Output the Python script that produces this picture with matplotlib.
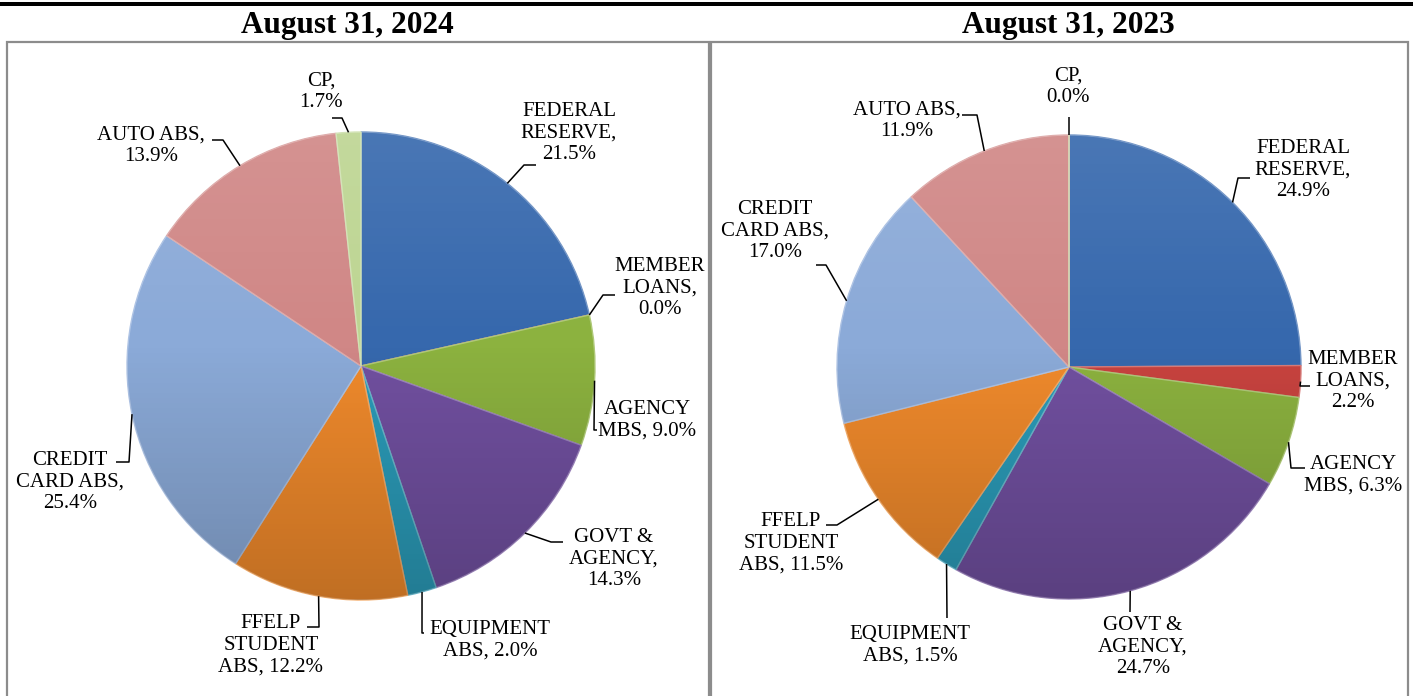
import numpy as np
import matplotlib.pyplot as plt
from matplotlib.patches import Rectangle, Circle
from matplotlib.colors import to_rgb

plt.rcParams['font.family'] = ['Liberation Serif', 'DejaVu Serif']

# data
categories = ['FEDERAL RESERVE', 'MEMBER LOANS', 'AGENCY MBS', 'GOVT & AGENCY',
              'EQUIPMENT ABS', 'FFELP STUDENT ABS', 'CREDIT CARD ABS', 'AUTO ABS', 'CP']
share_2024 = [21.5, 0.0, 9.0, 14.3, 2.0, 12.2, 25.4, 13.9, 1.7]
share_2023 = [24.9, 2.2, 6.3, 24.7, 1.5, 11.5, 17.0, 11.9, 0.0]
titles = ['August 31, 2024', 'August 31, 2023']
# how each category name is broken over lines in the data labels
label_names = ['FEDERAL\nRESERVE,\n', 'MEMBER\nLOANS,\n', 'AGENCY\nMBS, ', 'GOVT &\nAGENCY,\n',
               'EQUIPMENT\nABS, ', 'FFELP\nSTUDENT\nABS, ', 'CREDIT\nCARD ABS,\n', 'AUTO ABS,\n', 'CP,\n']

colors = ['#3668ad', '#c8433f', '#8cb23f', '#7150a0', '#2b9bb8',
          '#f08a2c', '#8baad8', '#d08786', '#bdd592']

W, H = 1413, 696


def Y(y):
    # pixel row (from top) -> data y
    return H - y


# layout in pixels (x, y from top)
panels = [
    dict(values=share_2024, title=titles[0], title_x=347, center=(361, 366), r=234,
         box=(7, 709),
         labels=[(569, 133), (660, 288), (647, 420), (614, 559), (490, 640),
                 (271, 645), (70, 482), (151, 146), (321, 92)],
         leaders=[[(524, 165), (536, 165)], [(603, 295), (615, 295)], [(594, 430), (597, 430)],
                  [(551, 542), (563, 542)], [(422, 633), (424, 633)], [(319, 627), (307, 627)],
                  [(129, 462), (116, 462)], [(223, 140), (212, 140)], [(342, 118), (332, 118)]]),
    dict(values=share_2023, title=titles[1], title_x=1068, center=(1069, 367), r=232,
         box=(711, 1408),
         labels=[(1303, 170), (1353, 381), (1353, 475), (1143, 647), (910, 645),
                 (791, 543), (775, 231), (907, 121), (1068, 87)],
         leaders=[[(1238, 178), (1250, 178)], [(1300, 386), (1310, 386)], [(1291, 468), (1305, 468)],
                  [(1130, 612), (1130, 612)], [(947, 618), (947, 618)], [(837, 525), (826, 525)],
                  [(826, 265), (816, 265)], [(977, 115), (962, 115)], [(1069, 117), (1069, 117)]]),
]

fig = plt.figure(figsize=(W / 100, H / 100), dpi=100)
ax = fig.add_axes([0, 0, 1, 1])

# thick rule on top
ax.add_patch(Rectangle((0, Y(5.5)), W, 4, facecolor='black', edgecolor='none', zorder=5))

for p in panels:
    cx, cy = p['center']
    r = p['r']
    wedges, _ = ax.pie(p['values'], colors=colors, startangle=90, counterclock=False,
                       center=(cx, Y(cy)), radius=r, normalize=True,
                       wedgeprops=dict(linewidth=1.0))
    for w, c in zip(wedges, colors):
        light = tuple(0.7 * np.array(to_rgb(c)) + 0.3)
        w.set_edgecolor(light)
        w.set_zorder(2)

    # soft vertical shading over the pie
    n = 256
    t = np.linspace(0, 1, n)
    grad = np.zeros((n, 1, 4))
    top = t < 0.45
    grad[top, 0, :3] = 1.0
    grad[top, 0, 3] = 0.10 * (1 - t[top] / 0.45)
    grad[~top, 0, 3] = 0.20 * ((t[~top] - 0.45) / 0.55)
    im = ax.imshow(grad, extent=(cx - r, cx + r, Y(cy) - r, Y(cy) + r), aspect='auto',
                   zorder=3, interpolation='bilinear')
    im.set_clip_path(Circle((cx, Y(cy)), r, transform=ax.transData))

    # data labels with leader lines
    for k, w in enumerate(wedges):
        v = p['values'][k]
        txt = label_names[k] + f'{v:.1f}%'
        lx, ly = p['labels'][k]
        ax.text(lx, Y(ly), txt, ha='center', va='center', multialignment='center',
                fontsize=15, linespacing=1.2, zorder=6)
        mid = np.deg2rad((w.theta1 + w.theta2) / 2)
        ex, ey = cx + r * np.cos(mid), Y(cy) + r * np.sin(mid)
        xs = [ex] + [q[0] for q in p['leaders'][k]]
        ys = [ey] + [Y(q[1]) for q in p['leaders'][k]]
        ax.plot(xs, ys, color='black', lw=1.1, zorder=6, solid_capstyle='butt')

    ax.text(p['title_x'], Y(33), p['title'], ha='center', va='baseline',
            fontsize=22.5, fontweight='bold', zorder=6)

    x0, x1 = p['box']
    ax.add_patch(Rectangle((x0, Y(710)), x1 - x0, 710 - 41.7, facecolor='none',
                           edgecolor='#8c8c8c', lw=1.6, zorder=1))

ax.set_xlim(0, W)
ax.set_ylim(0, H)
ax.set_aspect('auto')
ax.axis('off')

fig.savefig('out.png', dpi=100, facecolor='white')
